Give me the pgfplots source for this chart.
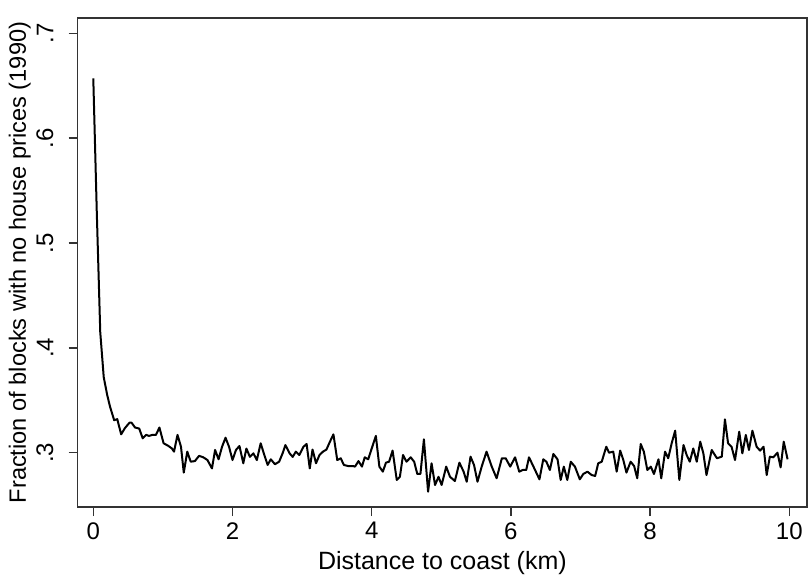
\documentclass[border=0pt]{standalone}
\usepackage{pgfplots}
\pgfplotsset{compat=1.18}
\usepackage{fontspec}
\setmainfont{Liberation Sans}
\begin{document}
\begin{tikzpicture}
\path[use as bounding box] (-38.85pt,-36.5pt) rectangle (365.65pt,253.5pt);
\begin{axis}[
  at={(0,0)}, anchor=south west,
  scale only axis,
  width=364.65pt, height=244.5pt,
  xmin=-0.224, xmax=10.254,
  ymin=0.2482, ymax=0.7146,
  axis line style={line width=0.75pt, black!80},
  xtick={0,2,4,6,8,10},
  ytick={0.3,0.4,0.5,0.6,0.7},
  yticklabels={.3,.4,.5,.6,.7},
  tick pos=left,
  tick align=outside,
  tickwidth=4.5pt,
  every tick/.append style={draw=black!80, line width=0.75pt},
  /pgf/number format/assume math mode=true,
  tick label style={font=\fontsize{12}{14}\selectfont},
  yticklabel style={rotate=90, anchor=south, inner sep=1pt},
  xticklabel style={anchor=north, inner sep=1pt},
  yticklabel shift=6.5pt,
  xticklabel shift=2pt,
  xlabel={Distance to coast (km)},
  ylabel={Fraction of blocks with no house prices (1990)},
  every axis x label/.style={at={(axis description cs:0.5,0)}, yshift=-28pt, anchor=center, font=\fontsize{12.5}{15}\selectfont},
  every axis y label/.style={at={(axis description cs:0,0.5)}, xshift=-29pt, rotate=90, anchor=center, font=\fontsize{11.8}{14}\selectfont},
]
\addplot[black, line width=1pt, line join=round] coordinates {
(0.000,0.657) (0.05,0.53) (0.10,0.415) (0.15,0.372) (0.20,0.355) (0.24,0.344)
(0.30,0.331) (0.345,0.332) (0.40,0.3175) (0.455,0.3235) (0.52,0.3286) (0.55,0.3286)
(0.60,0.324) (0.66,0.323) (0.71,0.3137) (0.76,0.317) (0.80,0.316) (0.85,0.317)
(0.90,0.317) (0.95,0.324) (1.01,0.309) (1.08,0.3064) (1.13,0.304) (1.16,0.301)
(1.21,0.317) (1.26,0.3057) (1.30,0.281) (1.35,0.301) (1.40,0.2914) (1.46,0.292)
(1.52,0.297) (1.58,0.2956) (1.64,0.293) (1.705,0.285) (1.75,0.3026) (1.80,0.2937)
(1.85,0.3057) (1.90,0.3143) (1.95,0.3057) (2.00,0.293) (2.05,0.3026) (2.10,0.3064)
(2.155,0.2899) (2.20,0.304) (2.25,0.296) (2.30,0.2994) (2.35,0.293) (2.405,0.309)
(2.457,0.2978) (2.505,0.2883) (2.55,0.2937) (2.61,0.289) (2.67,0.2914) (2.72,0.2994)
(2.76,0.3073) (2.82,0.2994) (2.865,0.296) (2.91,0.301) (2.96,0.2978) (3.02,0.3057)
(3.065,0.3083) (3.11,0.285) (3.15,0.303) (3.20,0.2899) (3.25,0.2978) (3.30,0.301)
(3.35,0.303) (3.40,0.3105) (3.45,0.3175) (3.505,0.293) (3.555,0.2947) (3.60,0.2883)
(3.66,0.2873) (3.73,0.2873) (3.76,0.2867) (3.81,0.292) (3.86,0.2867) (3.90,0.2956)
(3.95,0.2937) (4.00,0.304) (4.06,0.316) (4.11,0.2867) (4.16,0.2819) (4.205,0.2905)
(4.25,0.2914) (4.30,0.302) (4.36,0.274) (4.405,0.277) (4.45,0.2978) (4.50,0.2914)
(4.56,0.2956) (4.61,0.2914) (4.655,0.2797) (4.70,0.2797) (4.75,0.3128) (4.81,0.2628)
(4.86,0.2899) (4.91,0.2692) (4.96,0.277) (5.005,0.2692) (5.07,0.2867) (5.125,0.277)
(5.195,0.273) (5.26,0.2905) (5.32,0.282) (5.365,0.2723) (5.42,0.2962) (5.47,0.2883)
(5.52,0.2723) (5.58,0.2867) (5.65,0.301) (5.725,0.2867) (5.795,0.2756) (5.87,0.2947)
(5.925,0.2947) (5.99,0.2867) (6.06,0.2956) (6.12,0.2819) (6.17,0.2835) (6.22,0.2835)
(6.26,0.2956) (6.32,0.2873) (6.41,0.2746) (6.465,0.2937) (6.51,0.2914) (6.56,0.2835)
(6.61,0.2988) (6.67,0.2937) (6.715,0.274) (6.76,0.2867) (6.81,0.274) (6.86,0.2914)
(6.92,0.2867) (6.99,0.2746) (7.04,0.2797) (7.10,0.2819) (7.16,0.2787) (7.21,0.2778)
(7.255,0.2899) (7.305,0.2914) (7.37,0.3057) (7.41,0.300) (7.47,0.301) (7.52,0.2819)
(7.57,0.302) (7.615,0.293) (7.66,0.281) (7.72,0.2914) (7.77,0.2873) (7.815,0.2756)
(7.865,0.3083) (7.91,0.301) (7.96,0.2835) (8.01,0.2867) (8.055,0.2797) (8.12,0.2937)
(8.16,0.2756) (8.215,0.301) (8.26,0.2947) (8.31,0.309) (8.36,0.321) (8.42,0.274)
(8.48,0.3073) (8.525,0.2978) (8.57,0.2914) (8.62,0.304) (8.67,0.2914) (8.72,0.3105)
(8.765,0.2994) (8.81,0.2787) (8.885,0.3026) (8.96,0.2947) (9.03,0.2962) (9.075,0.3318)
(9.12,0.309) (9.17,0.3057) (9.22,0.293) (9.28,0.320) (9.325,0.2994) (9.375,0.3169)
(9.42,0.3026) (9.47,0.321) (9.53,0.3057) (9.58,0.302) (9.63,0.3057) (9.675,0.2787)
(9.72,0.2962) (9.77,0.2956) (9.83,0.300) (9.875,0.286) (9.92,0.3105) (9.975,0.2937)
};
\end{axis}
\end{tikzpicture}
\end{document}
